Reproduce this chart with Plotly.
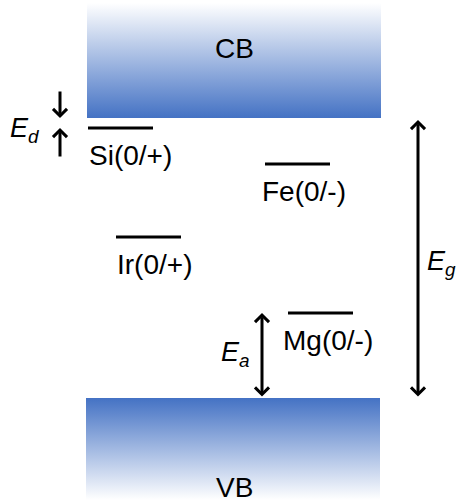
import plotly.graph_objects as go

# ---- data (energies relative to VB maximum, arbitrary units) ----
E_GAP = 2.80
level_names = ["Si(0/+)", "Fe(0/-)", "Ir(0/+)", "Mg(0/-)"]
level_energies = [2.70, 2.34, 1.61, 0.85]
band_names = ["CB", "VB"]

# ---- layout constants (pixel-like horizontal positions) ----
level_x0 = [88, 265, 116, 288]
level_len = 65
label_x = [87, 260, 115, 281]
BAND_X0, BAND_X1 = 87, 381
Y_MIN, Y_MAX = -1.04, 3.98
CB_TOP = 3.95
BLUE = "#4472C4"
FONT = "Liberation Sans, Arial, sans-serif"

fig = go.Figure()

# conduction band (gradient white -> blue, downward)
fig.add_trace(go.Scatter(
    x=[BAND_X0, BAND_X1, BAND_X1, BAND_X0, BAND_X0],
    y=[E_GAP, E_GAP, CB_TOP, CB_TOP, E_GAP],
    mode="lines", line=dict(width=0), fill="toself",
    fillgradient=dict(type="vertical",
                      colorscale=[[0, BLUE], [1, "#FFFFFF"]],
                      start=E_GAP, stop=CB_TOP),
    hoverinfo="skip", showlegend=False))

# valence band (gradient blue -> white, downward)
fig.add_trace(go.Scatter(
    x=[BAND_X0 - 1, BAND_X1 - 1, BAND_X1 - 1, BAND_X0 - 1, BAND_X0 - 1],
    y=[0, 0, Y_MIN - 0.05, Y_MIN - 0.05, 0],
    mode="lines", line=dict(width=0), fill="toself",
    fillgradient=dict(type="vertical",
                      colorscale=[[0, "#FFFFFF"], [1, BLUE]],
                      start=Y_MIN + 0.02, stop=0),
    hoverinfo="skip", showlegend=False))

# defect levels
for name, e, x0, lx in zip(level_names, level_energies, level_x0, label_x):
    fig.add_trace(go.Scatter(x=[x0, x0 + level_len], y=[e, e], mode="lines",
                             line=dict(color="black", width=3),
                             hoverinfo="skip", showlegend=False))
    fig.add_annotation(x=lx, y=e, text=name, showarrow=False,
                       xanchor="left", yanchor="middle", yshift=-27,
                       font=dict(family=FONT, size=28, color="black"))

# band labels
fig.add_annotation(x=(BAND_X0 + BAND_X1) / 2, y=3.50, text=band_names[0],
                   showarrow=False, font=dict(family=FONT, size=28, color="black"))
fig.add_annotation(x=(BAND_X0 + BAND_X1) / 2, y=-0.89, text=band_names[1],
                   showarrow=False, font=dict(family=FONT, size=28, color="black"))

def arrow(x, y_head, y_tail, both=False):
    fig.add_annotation(x=x, y=y_head, ax=x, ay=y_tail, xref="x", yref="y",
                       axref="x", ayref="y", text="", showarrow=True,
                       arrowhead=4, startarrowhead=4, arrowsize=0.9,
                       arrowwidth=3, arrowcolor="black", standoff=0,
                       startstandoff=0,
                       arrowside="end+start" if both else "end")

# E_g arrow
arrow(418, E_GAP - 0.02, 0, both=True)
# E_a arrow (VB max to Mg level)
arrow(262, level_energies[3], 0, both=True)
# E_d arrows
arrow(60, E_GAP, E_GAP + 0.28)
arrow(60, level_energies[0], level_energies[0] - 0.30)

lab_font = dict(family=FONT, size=27, color="black")
fig.add_annotation(x=8, y=2.68, text="<i>E</i><sub><i>d</i></sub>", showarrow=False,
                   xanchor="left", yanchor="middle", font=lab_font)
fig.add_annotation(x=219, y=0.44, text="<i>E</i><sub><i>a</i></sub>", showarrow=False,
                   xanchor="left", yanchor="middle", font=lab_font)
fig.add_annotation(x=425, y=1.35, text="<i>E</i><sub><i>g</i></sub>", showarrow=False,
                   xanchor="left", yanchor="middle", font=lab_font)

fig.update_layout(
    width=457, height=502,
    margin=dict(l=0, r=0, t=0, b=0),
    paper_bgcolor="white", plot_bgcolor="white",
    xaxis=dict(range=[0, 457], visible=False, fixedrange=True),
    yaxis=dict(range=[Y_MIN, Y_MAX], visible=False, fixedrange=True),
    showlegend=False,
)

fig.write_html("out.html", config={"displayModeBar": False},
               post_script="document.body.style.margin='0px';"
                           "document.body.style.overflow='hidden';")
